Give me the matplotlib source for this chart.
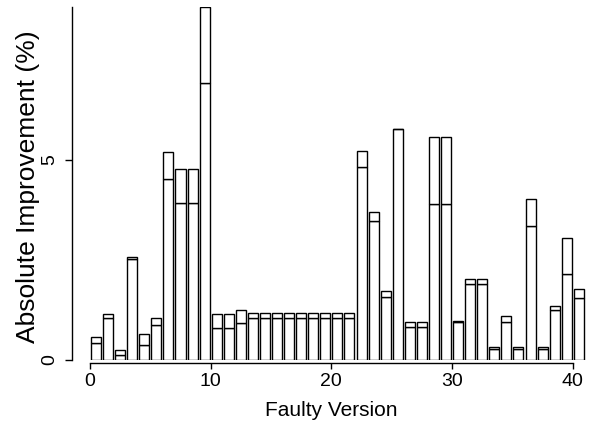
import matplotlib
matplotlib.use('Agg')
import matplotlib.pyplot as plt
import numpy as np

plt.rcParams['font.family'] = ['Liberation Sans', 'DejaVu Sans']

# faulty versions 1..41, lower part and total height of each bar (%)
versions = list(range(1, 42))
lower = [0.42, 1.06, 0.12, 2.52, 0.375, 0.87, 4.52, 3.92, 3.92, 6.93,
         0.81, 0.81, 0.92, 1.06, 1.06, 1.06, 1.06, 1.06, 1.06, 1.06,
         1.06, 1.06, 4.83, 3.48, 1.58, 5.78, 0.82, 0.82, 3.89, 3.89,
         0.95, 1.89, 1.89, 0.275, 0.95, 0.275, 3.36, 0.275, 1.24, 2.16,
         1.54]
total = [0.57, 1.16, 0.25, 2.58, 0.64, 1.06, 5.2, 4.78, 4.78, 8.82,
         1.14, 1.14, 1.24, 1.17, 1.17, 1.17, 1.17, 1.17, 1.17, 1.17,
         1.17, 1.17, 5.23, 3.69, 1.73, 5.78, 0.94, 0.94, 5.58, 5.57,
         0.98, 2.02, 2.02, 0.33, 1.1, 0.33, 4.03, 0.33, 1.35, 3.04,
         1.78]
xticks = [0, 10, 20, 30, 40]
yticks = [0, 5]

fig = plt.figure(figsize=(5.94, 4.28), dpi=100)
ax = fig.add_axes([72 / 594, 68 / 428, 522 / 594, 353 / 428])

pos = np.array(versions) - 0.5
low = np.array(lower)
top = np.array(total)
ax.bar(pos, low, width=0.83, color='white', edgecolor='black', linewidth=1.0)
ax.bar(pos, top - low, bottom=low, width=0.83, color='white',
       edgecolor='black', linewidth=1.0)

ax.set_xlim(-1.49, 41.76)
ax.set_ylim(0, 8.82)

for s in ['top', 'right']:
    ax.spines[s].set_visible(False)
ax.spines['bottom'].set_position(('outward', 2))
ax.spines['bottom'].set_bounds(0, 40)
ax.spines['left'].set_bounds(0, 8.82)
for s in ['bottom', 'left']:
    ax.spines[s].set_linewidth(1.0)

ax.set_xticks(xticks)
ax.set_yticks(yticks)
ax.tick_params(axis='x', length=4, width=1.0, pad=3, labelsize=14)
ax.tick_params(axis='y', length=5, width=1.0, pad=5, labelsize=14)
for lab in ax.get_yticklabels():
    lab.set_rotation(90)
    lab.set_va('center')

fig.text(331 / 594, 1 - 410 / 428, 'Faulty Version', ha='center', va='center',
         fontsize=15)
fig.text(28 / 594, 1 - 187 / 428, 'Absolute Improvement (%)', ha='center',
         va='center', rotation=90, fontsize=19)

fig.savefig('out.png', dpi=100)
